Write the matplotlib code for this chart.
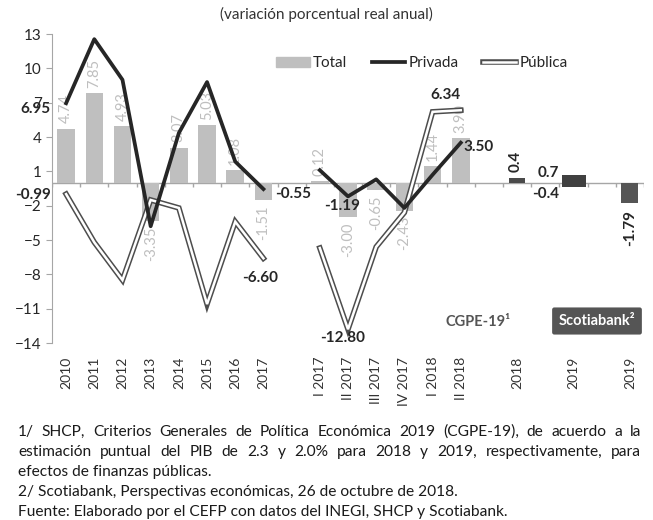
import numpy as np
import matplotlib
matplotlib.use('Agg')
import matplotlib.pyplot as plt
from matplotlib.lines import Line2D
from matplotlib.patches import Patch

plt.rcParams['font.family'] = ['Lato', 'DejaVu Sans']

nan = np.nan
categories = ['2010', '2011', '2012', '2013', '2014', '2015', '2016', '2017', '',
              'I 2017', 'II 2017', 'III 2017', 'IV 2017', 'I 2018', 'II 2018', '',
              '2018', '', '2019', '', '2019']
total = [4.74, 7.85, 4.93, -3.35, 3.07, 5.03, 1.08, -1.51, nan,
         0.12, -3.00, -0.65, -2.43, 1.44, 3.90]
privada = [6.95, 12.55, 9.0, -3.8, 4.35, 8.8, 1.85, -0.55, nan,
           1.1, -1.19, 0.3, -2.2, 0.7, 3.50]
publica = [-0.99, -5.2, -8.5, -1.5, -2.2, -10.6, -3.4, -6.60, nan,
           -5.7, -12.80, -5.6, -2.6, 6.2, 6.34]
# forecasts: CGPE-19 2018, CGPE-19 2019 (two values), Scotiabank 2019
cgpe_2018 = [0.4]
cgpe_2019 = [0.7, -0.4]
scotia_2019 = [-1.79]

LIGHT = '#bfbfbf'
DARK = '#262626'
TXT = '#333333'

fig = plt.figure(figsize=(6.53, 5.2), dpi=100)
ax = fig.add_axes([52 / 653, 1 - 343 / 520, 592 / 653, 309 / 520])

x = np.arange(len(categories))
n = len(total)

ax.bar(x[:n], total, width=0.62, color=LIGHT, zorder=2)
ax.bar(x[16], cgpe_2018, width=0.57, color='#4a4a4a', zorder=2)
for v in cgpe_2019:
    ax.bar(x[18], v, width=0.85, color='#404040', zorder=2)
ax.bar(x[20], scotia_2019, width=0.6, color='#555555', zorder=2)

# total labels
for xi, v in zip(x[:n], total):
    if np.isnan(v):
        continue
    off = 0.45 if v >= 0 else -0.45
    ax.text(xi, v + off, '%.2f' % v, rotation=90, color=LIGHT, fontsize=10.5,
            ha='center', va='bottom' if v >= 0 else 'top', zorder=3)

# publica: double line
ax.plot(x[:n], publica, color='#4d4d4d', lw=4.0, zorder=4, solid_joinstyle='miter')
ax.plot(x[:n], publica, color='white', lw=1.8, zorder=5, solid_joinstyle='miter')
# privada
ax.plot(x[:n], privada, color=DARK, lw=2.7, zorder=6)

bold = dict(fontsize=11, fontweight='bold', color=DARK, zorder=7)
ax.text(x[0] - 0.55, privada[0] - 0.5, '6.95', ha='right', va='center', **bold)
ax.text(x[7] + 0.4, privada[7] - 0.4, '-0.55', ha='left', va='center', **bold)
ax.text(x[10] - 0.2, privada[10] - 0.8, '-1.19', ha='center', va='center', **bold)
ax.text(x[14] + 0.1, privada[14] - 0.4, '3.50', ha='left', va='center', **bold)
ax.text(x[0] - 0.55, publica[0] - 0.1, '-0.99', ha='right', va='center', **bold)
ax.text(x[7] - 0.1, publica[7] - 1.7, '-6.60', ha='center', va='center', **bold)
ax.text(x[10] - 0.2, publica[10] - 0.8, '-12.80', ha='center', va='center', **bold)
ax.text(x[14] - 0.55, publica[14] + 1.3, '6.34', ha='center', va='center', **bold)
ax.text(x[16] - 0.05, cgpe_2018[0] + 0.5, '%.1f' % cgpe_2018[0], rotation=90,
        ha='center', va='bottom', **bold)
ax.text(x[18] - 0.5, cgpe_2019[0] + 0.15, '%.1f' % cgpe_2019[0], ha='right', va='center', **bold)
ax.text(x[18] - 0.5, cgpe_2019[1] - 0.55, '%.1f' % cgpe_2019[1], ha='right', va='center', **bold)
ax.text(x[20], scotia_2019[0] - 0.6, '%.2f' % scotia_2019[0], rotation=90,
        ha='center', va='top', **bold)

# zero axis with tick marks between categories
ax.axhline(0, color='#a6a6a6', lw=1, zorder=1)
ax.vlines(np.arange(-0.5, len(categories)), -0.35, 0, color='#a6a6a6', lw=1, zorder=1)

ax.set_xlim(-0.5, len(categories) - 0.5)
ax.set_ylim(-14, 13)
ax.set_yticks(np.arange(-14, 14, 3))
ax.set_xticks(x)
ax.set_xticklabels(categories, rotation=90, fontsize=10, color=TXT)
ax.tick_params(axis='x', length=0, pad=10)
ax.tick_params(axis='y', labelsize=11, labelcolor=DARK, color='#a6a6a6', length=4)
for s in ['top', 'right', 'bottom']:
    ax.spines[s].set_visible(False)
ax.spines['left'].set_color('#a6a6a6')

handles = [Patch(color=LIGHT),
           Line2D([], [], color=DARK, lw=2.7),
           (Line2D([], [], color='#4d4d4d', lw=4.0), Line2D([], [], color='white', lw=1.8))]
ax.legend(handles, ['Total', 'Privada', 'Pública'], ncol=3, frameon=False,
          loc='center', bbox_to_anchor=(0.625, 0.905), fontsize=11,
          handlelength=2.2, handletextpad=0.2, columnspacing=1.6,
          labelcolor=DARK)

fig.text(0.5, 0.972, '(variación porcentual real anual)', ha='center', va='center',
         fontsize=11, color=TXT)
fig.text(478 / 653, 1 - 322 / 520, 'CGPE-19¹', ha='center', va='center',
         fontsize=10.5, fontweight='bold', color='#555555')
fig.text(597 / 653, 1 - 321 / 520, 'Scotiabank²', ha='center', va='center',
         fontsize=10.5, fontweight='bold', color='white',
         bbox=dict(boxstyle='round,pad=0.45,rounding_size=0.15', fc='#555555', ec='none'))

notes = ['1/ SHCP, Criterios Generales de Política Económica 2019 (CGPE-19), de acuerdo a la',
         'estimación puntual del PIB de 2.3 y 2.0% para 2018 y 2019, respectivamente, para',
         'efectos de finanzas públicas.',
         '2/ Scotiabank, Perspectivas económicas, 26 de octubre de 2018.',
         'Fuente: Elaborado por el CEFP con datos del INEGI, SHCP y Scotiabank.']
justified = [True, True, False, False, False]
note_fs = 11.2
left_px, right_px = 18, 641
renderer = fig.canvas.get_renderer()
for i, (t, just) in enumerate(zip(notes, justified)):
    y = 1 - (432 + i * 20) / 520
    if not just:
        fig.text(left_px / 653, y, t, ha='left', va='center',
                 fontsize=note_fs, color='#1a1a1a')
        continue
    words = t.split(' ')
    arts = [fig.text(0, y, w, ha='left', va='center', fontsize=note_fs, color='#1a1a1a')
            for w in words]
    widths = [a.get_window_extent(renderer).width for a in arts]
    gap = (right_px - left_px - sum(widths)) / (len(words) - 1)
    xpos = left_px
    for a, w in zip(arts, widths):
        a.set_x(xpos / 653)
        xpos += w + gap

fig.savefig('out.png', dpi=100)
